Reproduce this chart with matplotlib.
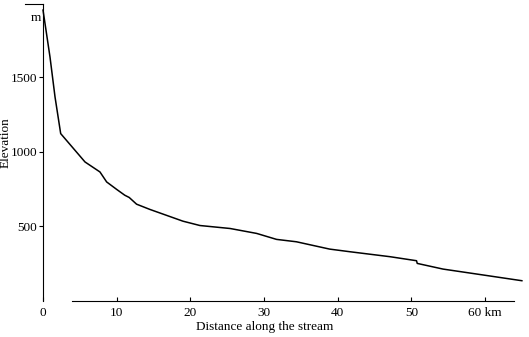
import matplotlib.pyplot as plt

# stream profile
dist_km = [0, 0.95, 1.63, 2.4, 5.7, 7.73, 8.64, 10.0, 11.1, 11.7, 12.7, 14.5,
           18.6, 19.0, 21.3, 25.4, 29.0, 31.7, 34.4, 38.9, 41.7, 47.1, 50.7,
           50.8, 54.3, 59.8, 65.0]
elev_m = [1950, 1635, 1368, 1122, 932, 865, 798, 748, 709, 694, 649, 614,
          542, 535, 506, 486, 453, 413, 397, 348, 330, 297, 270,
          252, 214, 174, 136]

xticks = [0, 10, 20, 30, 40, 50, 60]
xticklabels = ["0", "10", "20", "30", "40", "50", "60 km"]
yticks = [500, 1000, 1500]

plt.rcParams["font.family"] = "Liberation Serif"
plt.rcParams["font.size"] = 9.5

fig = plt.figure(figsize=(5.29, 3.37), dpi=100)
ax = fig.add_axes([0.0813, 0.1068, 0.908, 0.881])

ax.plot(dist_km, elev_m, color="black", lw=1.1, clip_on=False)

ax.set_xlim(0, 65.2)
ax.set_ylim(0, 1990)

ax.spines["top"].set_visible(False)
ax.spines["right"].set_visible(False)
ax.spines["bottom"].set_bounds(4, 64)
ax.spines["left"].set_linewidth(0.8)
ax.spines["bottom"].set_linewidth(0.8)

ax.set_xticks(xticks)
ax.set_xticklabels(xticklabels)
ax.set_yticks(yticks)
ax.tick_params(axis="x", direction="in", length=3, width=0.8, pad=4)
ax.tick_params(axis="y", direction="out", length=3, width=0.8, pad=1)

# top mark with unit
ax.plot([-2.5, 0], [1990, 1990], color="black", lw=0.8, clip_on=False)
ax.text(-0.3, 1900, "m", ha="right", va="center")

ax.set_xlabel("Distance along the stream")
ax.xaxis.set_label_coords(0.462, -0.066)
ax.set_ylabel("Elevation")
ax.yaxis.set_label_coords(-0.066, 0.535)

fig.savefig("out.png", dpi=100)
